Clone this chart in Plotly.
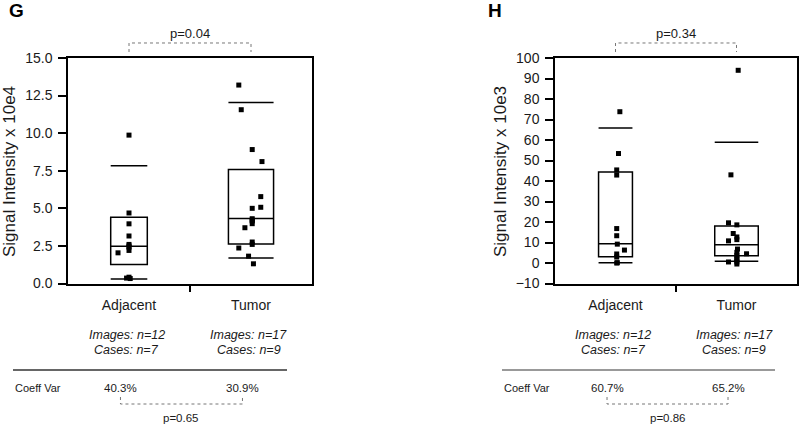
import plotly.graph_objects as go

# ---------------- data ----------------
categories = ["Adjacent", "Tumor"]

# Panel G (Signal Intensity x 10e4)
g_q1 = [1.27, 2.62]
g_median = [2.47, 4.33]
g_q3 = [4.40, 7.58]
g_low = [0.30, 1.69]
g_high = [7.84, 12.04]
g_adjacent_points = [9.87, 4.69, 3.97, 3.16, 2.60, 2.50, 2.42, 2.20, 2.04, 0.42, 0.36, 0.33]
g_tumor_points = [13.2, 11.56, 8.91, 8.11, 5.78, 5.07, 5.00, 4.31, 4.22, 4.16, 3.98, 3.71,
                  2.76, 2.60, 2.36, 1.82, 1.31]

# Panel H (Signal Intensity x 10e3)
h_q1 = [3.06, 3.50]
h_median = [9.4, 8.9]
h_q3 = [44.4, 18.1]
h_low = [0.1, 0.8]
h_high = [65.9, 58.9]
h_adjacent_points = [73.8, 53.4, 45.4, 42.9, 16.8, 13.3, 9.2, 6.3, 4.4, 2.9, 0.15, 0.0]
h_tumor_points = [94.0, 43.0, 19.6, 18.6, 14.4, 12.7, 11.4, 10.8, 6.8, 5.2, 4.5, 3.7,
                  2.2, 1.5, 0.5, 0.5, -0.5]

g_ticks = [0, 2.5, 5.0, 7.5, 10.0, 12.5, 15.0]
h_ticks = [-10, 0, 10, 20, 30, 40, 50, 60, 70, 80, 90, 100]

images_n = [12, 17]
cases_n = [7, 9]
coeff_g = ["40.3%", "30.9%"]
coeff_h = ["60.7%", "65.2%"]
p_top = ["p=0.04", "p=0.34"]
p_bottom = ["p=0.65", "p=0.86"]
panel_labels = ["G", "H"]
y_titles = ["Signal Intensity x 10e4", "Signal Intensity x 10e3"]

# ---------------- styles / positions ----------------
g_adj_jitter = [0, 0, 0, 0, 0, 0, 0, 0, -0.09, 0, -0.02, 0.01]
g_tum_jitter = [-0.1, -0.08, 0.01, 0.09, 0.08, 0.08, 0.01, 0.01, 0.01, 0.01, 0.01, -0.05,
                0.01, 0.01, -0.1, -0.02, 0.02]
h_adj_jitter = [0.036, 0.025, 0.01, 0.01, 0.01, 0.01, 0.015, 0.074, 0.01, 0.01, 0.015, 0.01]
h_tum_jitter = [0.014, -0.046, -0.066, 0.003, -0.027, 0.003, 0.003, -0.066, 0.008, 0.003,
                0.083, 0.003, 0.003, 0.003, -0.066, 0.003, 0.003]
g_widths = [0.30, 0.37]
h_widths = [0.28, 0.36]

W, H = 800, 424
FONT = "Liberation Sans, Arial, Helvetica, sans-serif"
TXT = "#1a1a1a"


def yp(px):
    return 1 - px / H


positions = [1, 2]

fig = go.Figure()


def add_panel(xa, ya, q1, med, q3, lo, hi, widths, pts, jit):
    fig.add_trace(go.Bar(
        x=positions, base=q1, y=[b - a for a, b in zip(q1, q3)], width=widths,
        marker=dict(color="white", line=dict(color="black", width=1.5)),
        xaxis=xa, yaxis=ya, hoverinfo="skip"))
    lx, ly = [], []
    for c, w, m, l, h in zip(positions, widths, med, lo, hi):
        for v in (l, m, h):
            lx += [c - w / 2, c + w / 2, None]
            ly += [v, v, None]
    fig.add_trace(go.Scatter(x=lx, y=ly, mode="lines", line=dict(color="black", width=1.5),
                             xaxis=xa, yaxis=ya, hoverinfo="skip"))
    for c, p, j in zip(positions, pts, jit):
        fig.add_trace(go.Scatter(
            x=[c + jj for jj in j], y=p, mode="markers",
            marker=dict(symbol="square", size=5, color="black"),
            xaxis=xa, yaxis=ya, hoverinfo="skip", cliponaxis=False))


add_panel("x", "y", g_q1, g_median, g_q3, g_low, g_high, g_widths,
          [g_adjacent_points, g_tumor_points], [g_adj_jitter, g_tum_jitter])
add_panel("x2", "y2", h_q1, h_median, h_q3, h_low, h_high, h_widths,
          [h_adjacent_points, h_tumor_points], [h_adj_jitter, h_tum_jitter])

ydom = [yp(283.5), yp(58)]


def xax(dom):
    return dict(domain=dom, range=[0.5, 2.5], tickvals=positions, ticktext=categories,
                ticks="", showline=True, mirror=True, linecolor="black", linewidth=1.5,
                showgrid=False, zeroline=False, tickfont=dict(size=14, color=TXT, family=FONT),
                ticklabelstandoff=8, automargin=False,
                minor=dict(tickvals=[1.5], ticks="outside", ticklen=7, tickcolor="black",
                           tickwidth=1.5, showgrid=False))


def yax(rng, tickvals, fmt, anchor):
    return dict(domain=ydom, range=rng, tickvals=tickvals, tickformat=fmt, ticks="outside",
                ticklen=8, tickwidth=1.5, tickcolor="black", showline=True, mirror=True,
                linecolor="black", linewidth=1.5, showgrid=False, zeroline=False,
                tickfont=dict(size=14, color=TXT, family=FONT), ticklabelstandoff=3,
                anchor=anchor, automargin=False)


fig.update_layout(
    width=W, height=H, margin=dict(l=0, r=0, t=0, b=0, autoexpand=False),
    paper_bgcolor="white", plot_bgcolor="white", showlegend=False, hovermode=False,
    font=dict(family=FONT, color=TXT),
    barmode="overlay",
    xaxis=dict(**xax([68 / W, 312 / W]), anchor="y"),
    yaxis=yax([0, 15], g_ticks, ".1f", "x"),
    xaxis2=dict(**xax([555 / W, 797 / W]), anchor="y2"),
    yaxis2=yax([-10, 100], h_ticks, "d", "x2"),
)

ann = []
shapes = []
panels = [
    dict(xr="x", label_x=16, title_x=9, coeff=coeff_g, p_top=p_top[0], p_bot=p_bottom[0],
         sep=(13, 287), sep_color="#333333", sep_w=1.3, cv_x=13),
    dict(xr="x2", label_x=495, title_x=500, coeff=coeff_h, p_top=p_top[1], p_bot=p_bottom[1],
         sep=(502, 775), sep_color="#999999", sep_w=2, cv_x=502),
]


def text(t, x, y, xref="paper", size=12, xanchor="center", angle=0, color=TXT):
    return dict(text=t, x=x, y=y, xref=xref, yref="paper", showarrow=False,
                xanchor=xanchor, yanchor="middle", textangle=angle,
                font=dict(size=size, color=color))


for i, pn in enumerate(panels):
    xr = pn["xr"]
    ann.append(text("<b>%s</b>" % panel_labels[i], pn["label_x"] / W, yp(10), size=19, color="black"))
    ann.append(text(y_titles[i], pn["title_x"] / W, yp(172), size=17, angle=-90))
    # top comparison bracket
    ann.append(text(pn["p_top"], 1.5, yp(33), xref=xr, size=13))
    dotted = dict(color="#777777", width=1, dash="dot")
    shapes.append(dict(type="path", xref=xr, yref="paper",
                       path="M %g,%g L %g,%g L %g,%g L %g,%g" % (
                           positions[0], yp(52), positions[0], yp(43),
                           positions[1], yp(43), positions[1], yp(52)),
                       line=dotted))
    # counts
    for c, ni, nc in zip(positions, images_n, cases_n):
        ann.append(text("<i>Images: n=%d</i>" % ni, c - 0.02, yp(335), xref=xr, size=12.5))
        ann.append(text("<i>Cases: n=%d</i>" % nc, c - 0.02, yp(350), xref=xr, size=12.5))
    # separator
    shapes.append(dict(type="line", xref="paper", yref="paper", x0=pn["sep"][0] / W,
                       x1=pn["sep"][1] / W, y0=yp(370), y1=yp(370),
                       line=dict(color=pn["sep_color"], width=pn["sep_w"])))
    ann.append(text("Coeff Var", pn["cv_x"] / W, yp(388), xanchor="left", size=11))
    for c, cv in zip(positions, pn["coeff"]):
        ann.append(text(cv, c - 0.07, yp(388), xref=xr, size=11.5))
    shapes.append(dict(type="path", xref=xr, yref="paper",
                       path="M %g,%g L %g,%g L %g,%g L %g,%g" % (
                           positions[0] - 0.07, yp(397), positions[0] - 0.07, yp(404),
                           positions[1] - 0.07, yp(404), positions[1] - 0.07, yp(397)),
                       line=dotted))
    ann.append(text(pn["p_bot"], 1.43, yp(418), xref=xr, size=11.5))

fig.update_layout(annotations=ann, shapes=shapes)

post = ("document.documentElement.style.margin='0';document.documentElement.style.padding='0';"
        "document.body.style.margin='0';document.body.style.padding='0';"
        "document.body.style.overflow='hidden';"
        "var d=document.getElementById('{plot_id}');"
        "d.style.position='absolute';d.style.left='0px';d.style.top='0px';")
fig.write_html("out.html", post_script=post, config={"displayModeBar": False})
